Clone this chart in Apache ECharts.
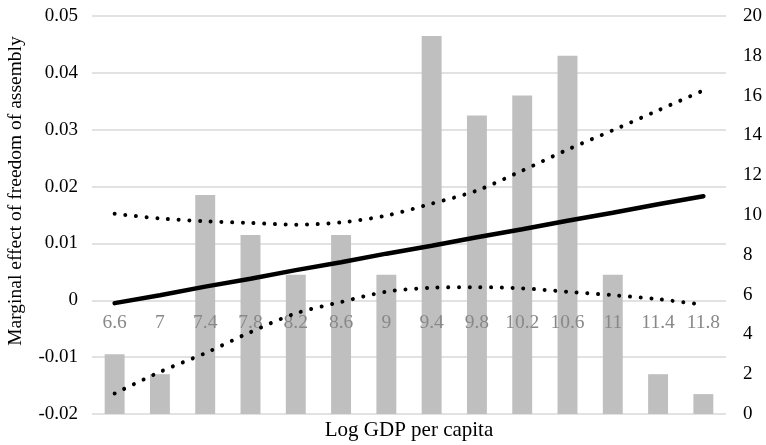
<!DOCTYPE html>
<html>
<head>
<meta charset="utf-8">
<script src="https://cdn.jsdelivr.net/npm/echarts@6/dist/echarts.min.js"></script>
<style>
  html, body { margin: 0; padding: 0; background: #ffffff; }
  #chart { width: 766px; height: 445px; }
</style>
</head>
<body>
<div id="chart"></div>
<script>
// Log GDP per capita bins
const categories = ['6.6', '7', '7.4', '7.8', '8.2', '8.6', '9', '9.4', '9.8', '10.2', '10.6', '11', '11.4', '11.8'];
// Number of observations per bin (right axis)
const counts = [3, 2, 11, 9, 7, 9, 7, 19, 15, 16, 18, 7, 2, 1];
// Marginal effect estimate (left axis)
const effect = [-0.0005, 0.0009, 0.0024, 0.0038, 0.0053, 0.0067, 0.0082, 0.0096, 0.0111, 0.0125, 0.0140, 0.0154, 0.0169, 0.0183];
// Upper confidence bound
const upper = [0.0152, 0.0144, 0.0139, 0.0136, 0.0133, 0.0137, 0.0149, 0.0170, 0.0193, 0.0228, 0.0265, 0.0299, 0.0334, 0.0369];
// Lower confidence bound
const lower = [-0.0164, -0.0126, -0.0093, -0.0056, -0.0023, -0.0003, 0.0015, 0.0022, 0.0023, 0.0021, 0.0015, 0.0009, 0.0002, -0.0008];

const FONT = '"Liberation Serif", "DejaVu Serif", serif';

const chart = echarts.init(document.getElementById('chart'), null, { renderer: 'canvas' });

const dotted = {
  color: '#000000',
  width: 4,
  type: [0.01, 10.7],
  cap: 'round'
};

// Category labels sit just under the zero line of the left axis
const GRID_TOP = 16, GRID_BOTTOM = 31, CHART_H = 445;
const yMin = -0.02, yMax = 0.05;
const plotH = CHART_H - GRID_TOP - GRID_BOTTOM;
const zeroOffset = plotH * (0 - yMin) / (yMax - yMin); // px from bottom edge up to y = 0

chart.setOption({
  animation: false,
  backgroundColor: '#ffffff',
  grid: { left: 92, right: 40, top: GRID_TOP, bottom: GRID_BOTTOM, containLabel: false },
  xAxis: {
    type: 'category',
    data: categories,
    z: 2,
    axisLine: { show: false, onZero: false },
    axisTick: { show: false },
    axisLabel: {
      color: '#888888', fontFamily: FONT, fontSize: 19.5, interval: 0,
      margin: -(zeroOffset - 13)
    }
  },
  yAxis: [
    {
      type: 'value',
      min: yMin,
      max: yMax,
      interval: 0.01,
      axisLine: { show: false },
      axisTick: { show: false },
      splitLine: { show: true, lineStyle: { color: '#d9d9d9', width: 1.5 } },
      axisLabel: {
        color: '#000000', fontFamily: FONT, fontSize: 19, margin: 14,
        formatter: v => (Math.round(v * 100) / 100).toString()
      }
    },
    {
      type: 'value',
      min: 0,
      max: 20,
      interval: 2,
      axisLine: { show: false },
      axisTick: { show: false },
      splitLine: { show: false },
      axisLabel: { color: '#000000', fontFamily: FONT, fontSize: 19, margin: 17 }
    }
  ],
  series: [
    {
      type: 'bar',
      yAxisIndex: 1,
      data: counts,
      barWidth: '44%',
      itemStyle: { color: '#bfbfbf' },
      z: 1
    },
    {
      type: 'line',
      yAxisIndex: 0,
      data: upper,
      smooth: 0.3,
      symbol: 'none',
      lineStyle: dotted,
      z: 3
    },
    {
      type: 'line',
      yAxisIndex: 0,
      data: lower,
      smooth: 0.3,
      symbol: 'none',
      lineStyle: dotted,
      z: 3
    },
    {
      type: 'line',
      yAxisIndex: 0,
      data: effect,
      symbol: 'none',
      lineStyle: { color: '#000000', width: 4.5, cap: 'round' },
      z: 4
    }
  ],
  graphic: [
    {
      type: 'text',
      x: 409,
      y: 430,
      style: {
        text: 'Log GDP per capita', fill: '#000000', font: '21px ' + FONT,
        align: 'center', verticalAlign: 'middle'
      }
    },
    {
      type: 'text',
      x: 16,
      y: 191,
      rotation: Math.PI / 2,
      style: {
        text: 'Marginal effect of freedom of assembly',
        fill: '#000000',
        font: '19.5px ' + FONT,
        align: 'center',
        verticalAlign: 'middle'
      }
    }
  ]
});
</script>
</body>
</html>
